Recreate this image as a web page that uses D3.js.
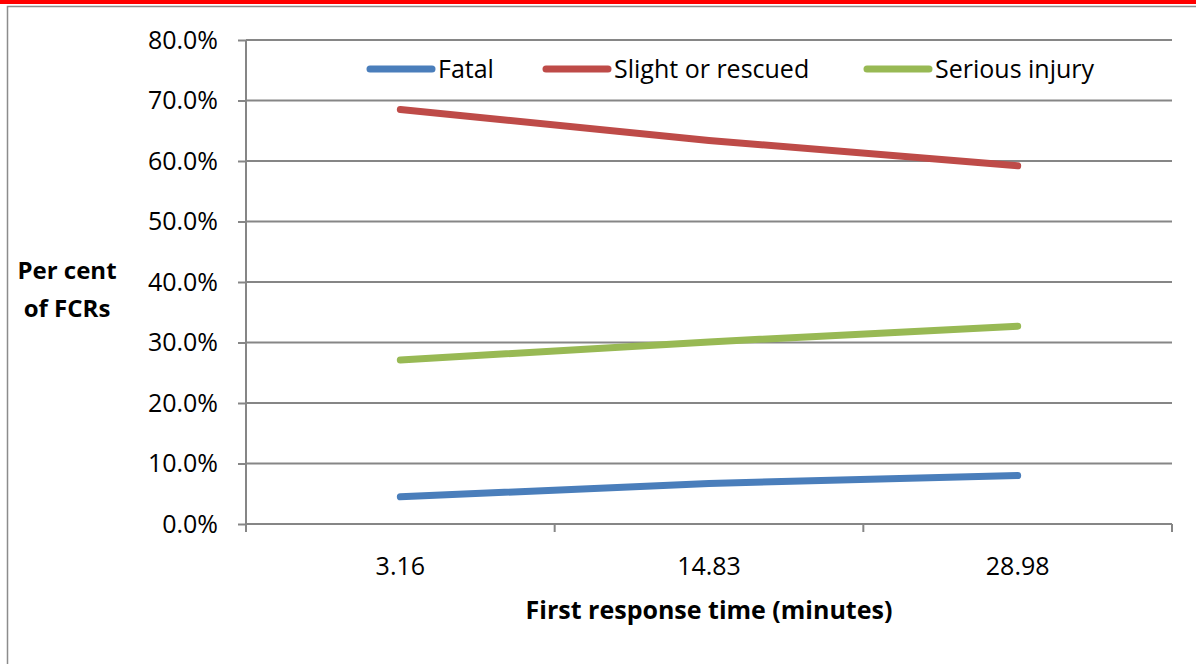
<!DOCTYPE html>
<html><head><meta charset="utf-8">
<script src="https://cdn.jsdelivr.net/npm/d3@7"></script>
<style>body{margin:0;background:#fff}svg{display:block}</style>
</head><body>
<svg id="c" width="1196" height="664"></svg>
<script>
const categories = ["3.16", "14.83", "28.98"];
const fatal = [0.045, 0.067, 0.080];
const slight = [0.685, 0.634, 0.592];
const serious = [0.271, 0.301, 0.327];
const seriesNames = ["Fatal", "Slight or rescued", "Serious injury"];
const seriesColors = ["#4a7ebb", "#be4b48", "#98b954"];
const yTicks = [0, 0.1, 0.2, 0.3, 0.4, 0.5, 0.6, 0.7, 0.8];

const series = [fatal, slight, serious].map((v, i) => ({name: seriesNames[i], color: seriesColors[i], values: v}));
const svg = d3.select("#c");
const font = "'Open Sans', sans-serif";

// frame
svg.append("rect").attr("x", 0).attr("y", 0).attr("width", 1196).attr("height", 4).attr("fill", "#ff0000");
svg.append("path").attr("d", "M7.5,670V6.5H1200").attr("fill", "none").attr("stroke", "#8c8c8c").attr("stroke-width", 1.5);

const L = 246, R = 1172, T = 40, B = 524;
const x = d3.scaleBand().domain(categories).range([L, R]);
const y = d3.scaleLinear().domain([0, 0.8]).range([B, T]);

// gridlines
svg.append("g").selectAll("line").data(yTicks.slice(1)).join("line")
  .attr("x1", L).attr("x2", R).attr("y1", d => y(d)).attr("y2", d => y(d))
  .attr("stroke", "#868686").attr("stroke-width", 2);

// y axis
const ya = svg.append("g").attr("transform", `translate(${L},0)`)
  .call(d3.axisLeft(y).tickValues(yTicks).tickFormat(d3.format(".1%")).tickSize(8).tickPadding(20));
ya.select(".domain").attr("stroke", "#868686").attr("stroke-width", 2).attr("d", `M0,${T}V${B}`);
ya.selectAll(".tick line").attr("stroke", "#868686").attr("stroke-width", 2);
ya.selectAll("text").attr("font-family", font).attr("font-size", 25).attr("fill", "#000");

// x axis
const xa = svg.append("g").attr("transform", `translate(0,${B})`)
  .call(d3.axisBottom(x).tickSize(0).tickPadding(33));
xa.select(".domain").attr("stroke", "#868686").attr("stroke-width", 2).attr("d", `M${L},0H${R}`);
xa.selectAll("text").attr("font-family", font).attr("font-size", 25).attr("fill", "#000");
const bounds = categories.map(c => x(c)).concat([R]);
xa.append("g").selectAll("line").data(bounds).join("line")
  .attr("x1", d => d).attr("x2", d => d).attr("y1", 0).attr("y2", 8)
  .attr("stroke", "#868686").attr("stroke-width", 2);

// lines
const line = d3.line().x((d, i) => x(categories[i]) + x.bandwidth() / 2).y(d => y(d));
svg.append("g").selectAll("path").data(series).join("path")
  .attr("d", d => line(d.values)).attr("fill", "none").attr("stroke", d => d.color)
  .attr("stroke-width", 7).attr("stroke-linecap", "round").attr("stroke-linejoin", "round");

// legend
const legX = [370, 546, 867];
const lg = svg.append("g").selectAll("g").data(series).join("g")
  .attr("transform", (d, i) => `translate(${legX[i]},69)`);
lg.append("line").attr("x1", 0).attr("x2", 62).attr("stroke", d => d.color).attr("stroke-width", 7).attr("stroke-linecap", "round");
lg.append("text").attr("x", 68).attr("y", 9).text(d => d.name)
  .attr("font-family", font).attr("font-size", 25).attr("fill", "#000");

// axis titles
const yt = svg.append("text").attr("font-family", font).attr("font-size", 24).attr("font-weight", "bold")
  .attr("text-anchor", "middle").attr("fill", "#000");
yt.append("tspan").attr("x", 67).attr("y", 279).text("Per cent");
yt.append("tspan").attr("x", 67).attr("y", 317).text("of FCRs");
svg.append("text").attr("x", (L + R) / 2).attr("y", 619).attr("text-anchor", "middle")
  .attr("font-family", font).attr("font-size", 25).attr("font-weight", "bold").attr("fill", "#000")
  .text("First response time (minutes)");
</script>
</body></html>
